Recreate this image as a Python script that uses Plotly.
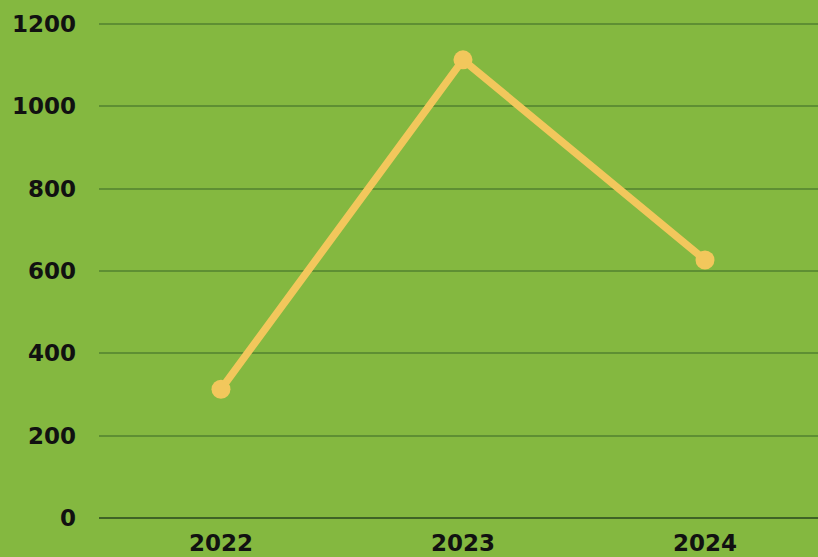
import plotly.graph_objects as go

years = ["2022", "2023", "2024"]
values = [313, 1113, 627]
y_ticks = [0, 200, 400, 600, 800, 1000, 1200]

fig = go.Figure()
fig.add_trace(go.Scatter(
    x=[0, 1, 2], y=values, mode="lines+markers",
    line=dict(color="#f2c75c", width=7.5),
    marker=dict(color="#f2c75c", size=19),
    hoverinfo="skip",
))

font = dict(family="DejaVu Sans", size=23, color="#111111", weight="bold")

fig.update_layout(
    width=818, height=557,
    margin=dict(l=99, r=0, t=22, b=39),
    paper_bgcolor="#84b840", plot_bgcolor="#84b840",
    showlegend=False,
    xaxis=dict(
        range=[-0.504, 2.467], tickvals=[0, 1, 2], ticktext=years,
        showgrid=False, zeroline=False, showline=False,
        tickfont=font, ticklabelstandoff=9, automargin=False,
        fixedrange=True,
    ),
    yaxis=dict(
        range=[0, 1205], tickvals=y_ticks,
        showgrid=True, gridcolor="#5e8f33", gridwidth=1.5,
        zeroline=True, zerolinecolor="#3f6326", zerolinewidth=2,
        showline=False, tickfont=font, ticklabelstandoff=22,
        automargin=False,
    ),
)

fig.write_html(
    "out.html",
    config={"displayModeBar": False},
    post_script="document.body.style.margin='0';document.body.style.background='#84b840';",
)
